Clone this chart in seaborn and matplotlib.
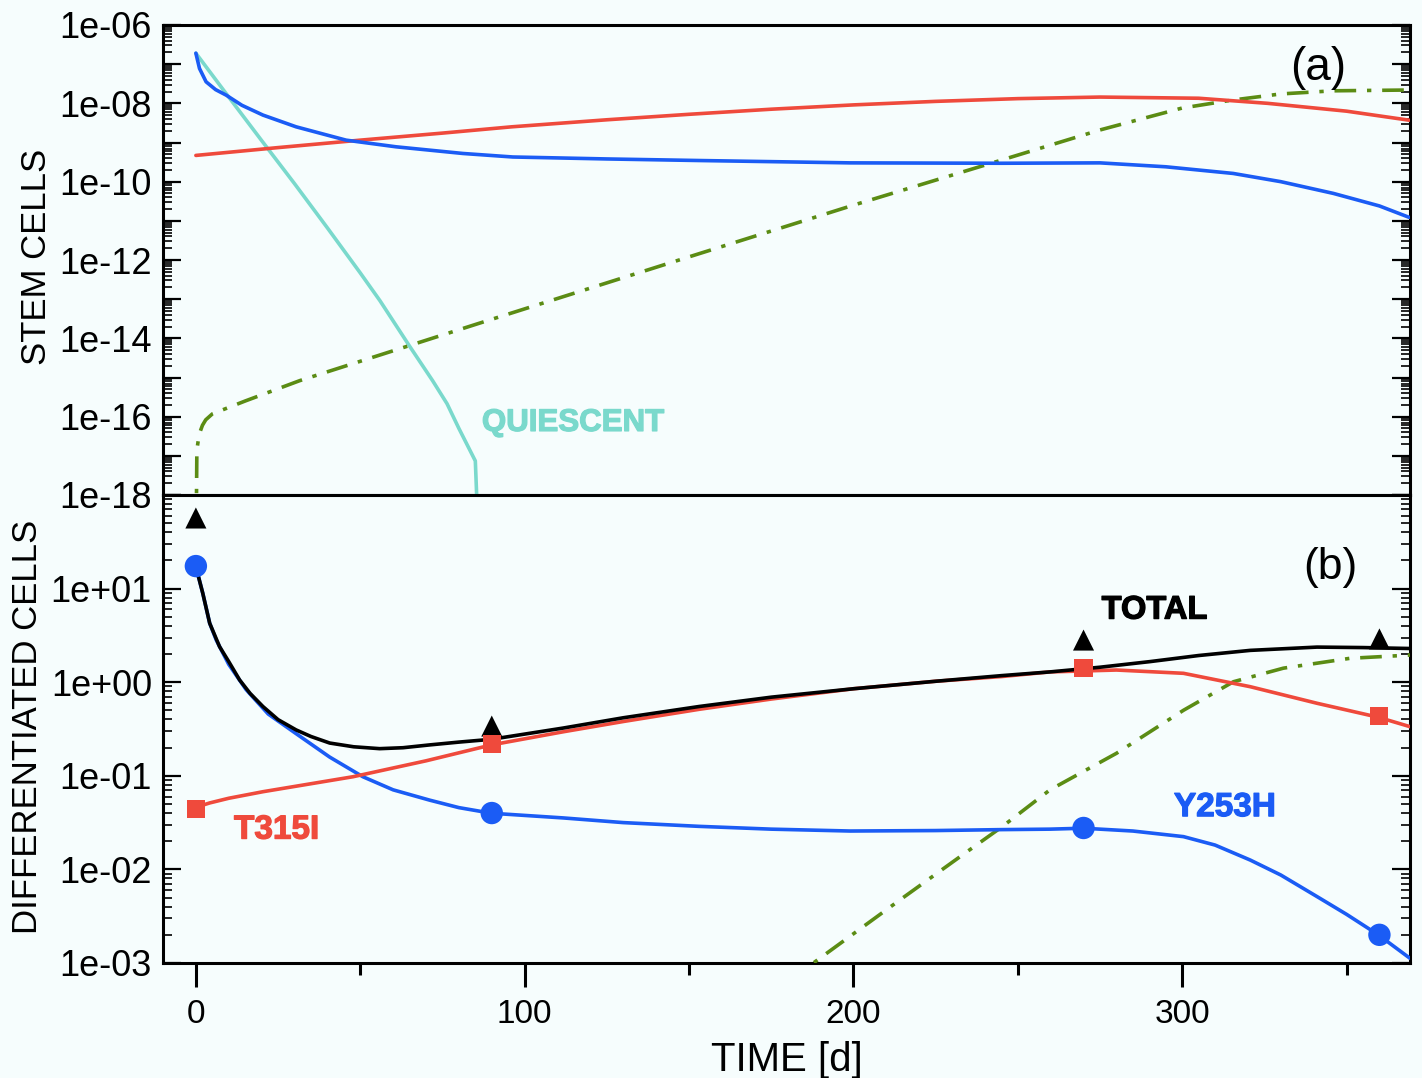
import numpy as np
import pandas as pd
import matplotlib
matplotlib.use("Agg")
import matplotlib.pyplot as plt
import matplotlib.ticker as mticker
import matplotlib.patheffects as pe
import seaborn as sns

# ---------------- data ----------------
# Top panel: stem cells (log10 values)
stem_y253h_t = [0, 1.1, 3.1, 6, 9.2, 14, 20.4, 30.5, 45.7, 60.9, 81.2, 96.4, 125, 153, 199, 245, 275,
                295, 315.5, 330, 346, 360, 369]
stem_y253h_l = [-6.72, -7.11, -7.45, -7.65, -7.79, -8.05, -8.30, -8.60, -8.94, -9.11, -9.28, -9.37,
                -9.42, -9.46, -9.52, -9.53, -9.52, -9.62, -9.79, -10.0, -10.30, -10.62, -10.91]

stem_t315i_t = [0, 25, 50, 75, 96, 125, 150, 175, 200, 225, 250, 275, 305, 326, 350, 369]
stem_t315i_l = [-9.33, -9.13, -8.94, -8.76, -8.60, -8.42, -8.28, -8.15, -8.04, -7.95, -7.88, -7.84,
                -7.87, -8.0, -8.2, -8.43]

stem_other_t = [0, 0.3, 1, 2, 3, 5, 8, 15, 31.6, 86, 150, 200, 245, 275, 300, 315, 330, 346, 369]
stem_other_l = [-20, -16.85, -16.45, -16.22, -16.08, -15.93, -15.83, -15.6, -15.08, -13.62, -11.92,
                -10.6, -9.45, -8.68, -8.12, -7.92, -7.76, -7.68, -7.66]

quiescent_t = [0, 10, 20, 30, 40, 50, 56, 65, 72, 76.4, 80, 85, 85.5, 86]
quiescent_l = [-6.72, -7.84, -8.95, -10.05, -11.18, -12.33, -13.04, -14.2, -15.08, -15.67, -16.3, -17.13,
               -18.2, -20]

# Bottom panel: differentiated cells (log10 values)
diff_total_t = [0, 2.1, 4.2, 7.2, 10, 13.3, 16.5, 20.4, 25, 30.5, 35, 40.7, 48, 55.9, 63, 71.1, 80, 89.9,
                111.7, 130, 153, 175, 200, 225, 245, 259.8, 275, 290.2, 305, 320.7, 341, 355, 369.3]
diff_total_l = [1.234, 0.95, 0.63, 0.38, 0.22, 0.024, -0.12, -0.26, -0.40, -0.51, -0.58, -0.65, -0.69,
                -0.71, -0.70, -0.67, -0.64, -0.61, -0.49, -0.38, -0.26, -0.16, -0.07, 0.01, 0.07,
                0.11, 0.16, 0.22, 0.285, 0.34, 0.375, 0.37, 0.36]

diff_y253h_t = [0, 2.1, 4.2, 6.2, 10, 15.3, 22, 30.5, 40.7, 50.8, 60, 71.1, 80, 89.9, 111.7, 130, 153,
                175, 199, 225, 245, 259.8, 270, 285, 300.4, 310, 320.7, 330, 341, 350, 359.7, 369.3]
diff_y253h_l = [1.234, 0.95, 0.63, 0.45, 0.19, -0.08, -0.34, -0.55, -0.80, -1.01, -1.15, -1.26, -1.34,
                -1.40, -1.45, -1.50, -1.54, -1.57, -1.59, -1.585, -1.575, -1.57, -1.56, -1.59, -1.65,
                -1.74, -1.90, -2.06, -2.29, -2.48, -2.70, -2.95]

diff_t315i_t = [0, 1.5, 4.2, 10, 20.4, 47.8, 70, 89.9, 111.7, 130, 153, 175, 200, 225, 245, 259.8, 280,
                300.4, 320.7, 341, 359.7, 369.3]
diff_t315i_l = [-1.37, -1.32, -1.29, -1.24, -1.17, -1.01, -0.84, -0.67, -0.53, -0.42, -0.29, -0.18,
                -0.07, 0.01, 0.06, 0.11, 0.13, 0.095, -0.048, -0.225, -0.375, -0.475]

diff_other_t = [180, 214, 233, 245, 259.8, 280, 300.4, 315.6, 330.8, 351, 369.3]
diff_other_l = [-3.2, -2.33, -1.85, -1.55, -1.15, -0.76, -0.30, 0.005, 0.15, 0.255, 0.29]

# Measured data points
obs_t = [0, 90, 270, 360]
obs_total = [56.8, 0.34, 2.82, 2.9]
obs_y253h = [17.4, 0.040, 0.0277, 0.002]
obs_t315i = [0.044, 0.219, 1.42, 0.436]

# ---------------- styling ----------------
BG = "#f6fdfd"
BLUE = "#1b5cf5"
RED = "#ef4a3c"
GREEN = "#5b8c14"
TURQ = "#7ad9cc"
BLACK = "#000000"

sns.set_theme(style="ticks")
plt.rcParams["font.family"] = ["Liberation Sans", "DejaVu Sans"]
plt.rcParams["axes.linewidth"] = 2.2
plt.rcParams["text.color"] = "black"
plt.rcParams["axes.labelcolor"] = "black"

fig = plt.figure(figsize=(14.22, 10.78), dpi=100, facecolor=BG)
L, R = 163 / 1422, 1410 / 1422
y_top, y_mid, y_bot = 1 - 25 / 1078, 1 - 495 / 1078, 1 - 963 / 1078
ax1 = fig.add_axes([L, y_mid, R - L, y_top - y_mid])
ax2 = fig.add_axes([L, y_bot, R - L, y_mid - y_bot], sharex=ax1)

for ax in (ax1, ax2):
    ax.set_facecolor(BG)
    ax.set_yscale("log")
    for sp in ax.spines.values():
        sp.set_linewidth(2.2)
        sp.set_color("black")

LW = 2.6
DASHDOT = (0, (6, 3, 1.2, 3))


def curve(ax, t, logv, color, ls="-"):
    df = pd.DataFrame({"t": t, "v": np.power(10.0, np.array(logv))})
    sns.lineplot(data=df, x="t", y="v", ax=ax, color=color, linewidth=LW,
                 linestyle=ls, estimator=None, sort=False, zorder=3)


# top panel
curve(ax1, quiescent_t, quiescent_l, TURQ)
curve(ax1, stem_other_t, stem_other_l, GREEN, DASHDOT)
curve(ax1, stem_t315i_t, stem_t315i_l, RED)
curve(ax1, stem_y253h_t, stem_y253h_l, BLUE)

# bottom panel
curve(ax2, diff_other_t, diff_other_l, GREEN, DASHDOT)
curve(ax2, diff_y253h_t, diff_y253h_l, BLUE)
curve(ax2, diff_t315i_t, diff_t315i_l, RED)
curve(ax2, diff_total_t, diff_total_l, BLACK)

obs = pd.DataFrame({"t": obs_t, "total": obs_total, "y253h": obs_y253h, "t315i": obs_t315i})
sns.scatterplot(data=obs, x="t", y="total", ax=ax2, marker="^", s=230, color=BLACK,
                edgecolor="none", zorder=5, clip_on=False)
sns.scatterplot(data=obs, x="t", y="y253h", ax=ax2, marker="o", s=260, color=BLUE,
                edgecolor="none", zorder=5, clip_on=False)
sns.scatterplot(data=obs, x="t", y="t315i", ax=ax2, marker="s", s=170, color=RED,
                edgecolor="none", zorder=5, clip_on=False)

# limits
ax1.set_xlim(-10, 369.3)
ax1.set_ylim(1e-18, 1e-6)
ax2.set_ylim(1e-3, 1e2)


# ticks
def make_fmt(keep):
    def f(v, pos):
        e = int(round(np.log10(v)))
        if e in keep:
            return f"1e{e:+03d}"
        return ""
    return mticker.FuncFormatter(f)


for ax, keep in ((ax1, range(-18, -5, 2)), (ax2, range(-3, 2))):
    ax.yaxis.set_major_locator(mticker.LogLocator(base=10, numticks=30))
    ax.yaxis.set_minor_locator(mticker.LogLocator(base=10, subs=np.arange(2, 10), numticks=30))
    ax.yaxis.set_major_formatter(make_fmt(list(keep)))
    ax.yaxis.set_minor_formatter(mticker.NullFormatter())
    ax.tick_params(axis="y", which="both", direction="in", left=True, right=True,
                   labelsize=26, pad=8, colors="black")
    ax.tick_params(axis="y", which="major", length=13, width=1.6)
    ax.tick_params(axis="y", which="minor", length=6.5, width=1.2)
    ax.xaxis.set_major_locator(mticker.MultipleLocator(100))
    ax.xaxis.set_minor_locator(mticker.MultipleLocator(50))
    ax.tick_params(axis="x", which="both", direction="out", bottom=True, top=False,
                   labelsize=24, pad=9, colors="black")
    ax.tick_params(axis="x", which="major", length=17, width=2.2)
    ax.tick_params(axis="x", which="minor", length=8.5, width=2.2)

ax1.tick_params(axis="x", labelbottom=False)
ax1.set_xlabel("")
ax1.set_ylabel("")
ax2.set_ylabel("")
ax2.set_xlabel("TIME [d]", fontsize=29, labelpad=8, color="black")

fig.text(37 / 1422, 1 - 257 / 1078, "STEM CELLS", rotation=90, ha="center", va="center",
         fontsize=25, color="black")
fig.text(28 / 1422, 1 - 727 / 1078, "DIFFERENTIATED CELLS", rotation=90, ha="center", va="center",
         fontsize=25, color="black")

# annotations
ax1.text(341.3, 10 ** -7.1, "(a)", fontsize=33, ha="center", va="center", color="black")
ax2.text(345, 10 ** 1.23, "(b)", fontsize=32, ha="center", va="center", color="black")


def label(ax, x, y, s, color, size):
    ax.text(x, y, s, color=color, fontsize=size, fontweight="bold", ha="left", va="center",
            path_effects=[pe.withStroke(linewidth=0.9, foreground=color)])


label(ax1, 87, 10 ** -16.16, "QUIESCENT", TURQ, 22.5)
label(ax2, 275.5, 10 ** 0.77, "TOTAL", BLACK, 23.5)
label(ax2, 11.6, 10 ** -1.58, "T315I", RED, 24)
label(ax2, 297.5, 10 ** -1.34, "Y253H", BLUE, 24)

fig.savefig("out.png", dpi=100, facecolor=BG)
